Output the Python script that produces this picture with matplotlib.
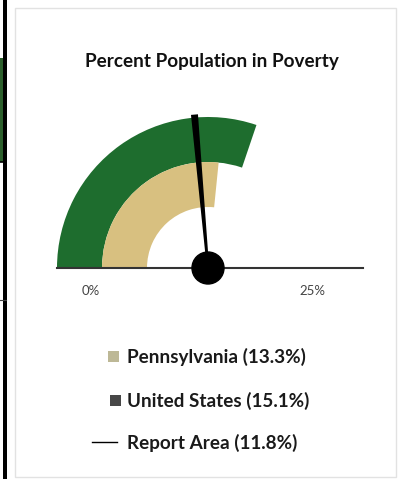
import numpy as np
import matplotlib
matplotlib.use("Agg")
import matplotlib.pyplot as plt
from matplotlib.patches import Wedge, Rectangle, Circle, Polygon

# poverty rates (%)
scale_max = 25.0
state_name = "Pennsylvania"
state_value = 13.3
us_name = "United States"
us_value = 15.1
area_name = "Report Area"
area_value = 11.8
tick_labels = ["0%", "25%"]

green = "#1e6d2e"
tan = "#d8c080"
legend_tan = "#bdb896"
legend_gray = "#474747"

plt.rcParams["font.family"] = ["Lato", "DejaVu Sans"]

W, H = 400, 479
fig = plt.figure(figsize=(W / 100, H / 100), dpi=100)
ax = fig.add_axes([0, 0, 1, 1])
ax.set_xlim(0, W)
ax.set_ylim(H, 0)
ax.axis("off")

# page edge on the left
ax.add_patch(Rectangle((3, 0), 3.5, H, color="black", lw=0))
ax.add_patch(Rectangle((0, 58), 3, 104, color="#2b5e2b", lw=0))
ax.plot([0, 6], [162, 162], color="black", lw=1.2)
ax.plot([0, 6], [300, 300], color="#444444", lw=0.8)

# panel frame
ax.add_patch(Rectangle((15, 8), 381, 469, fill=False, ec="#e2e2e2", lw=1))

ax.text(212, 61, "Percent Population in Poverty", ha="center", va="center",
        fontsize=13.6, fontweight="bold", color="#111111")

# gauge
cx, cy = 208, 268
r_out, r_mid, r_in = 151, 106, 61


def to_angle(v):
    # 0 at the left end, scale_max at the right end (y axis points down)
    return 180.0 + v / scale_max * 180.0


ax.add_patch(Wedge((cx, cy), r_out, 180, to_angle(us_value), width=r_out - r_mid,
                   color=green, lw=0))
ax.add_patch(Wedge((cx, cy), r_mid, 180, to_angle(state_value), width=r_mid - r_in,
                   color=tan, lw=0))

ax.plot([cx - r_out, cx + r_out + 4], [cy, cy], color="#333333", lw=1.5, zorder=3)

# needle: narrow at the hub, wider at the tip
a = np.deg2rad(to_angle(area_value))
d = np.array([np.cos(a), np.sin(a)])
n = np.array([-d[1], d[0]])
c = np.array([cx, cy])
tip = c + (r_out + 3) * d
needle = [c + 1.2 * n, tip + 3.5 * n, tip - 3.5 * n, c - 1.2 * n]
ax.add_patch(Polygon(needle, closed=True, color="black", lw=0, zorder=4))
ax.add_patch(Circle((cx, cy), 16, color="black", zorder=5))

ax.text(91, 291, tick_labels[0], ha="center", va="center", fontsize=9.5, color="#444444")
ax.text(312, 291, tick_labels[1], ha="center", va="center", fontsize=9.5, color="#444444")

# legend
lx = 127
fs = 13.6
ax.add_patch(Rectangle((108, 351), 11, 11, color=legend_tan, lw=0))
ax.text(lx, 357, f"{state_name} ({state_value}%)", ha="left", va="center",
        fontsize=fs, fontweight="bold", color="#1a1a1a")
ax.add_patch(Rectangle((110, 395), 11, 11, color=legend_gray, lw=0))
ax.text(lx, 401, f"{us_name} ({us_value}%)", ha="left", va="center",
        fontsize=fs, fontweight="bold", color="#1a1a1a")
ax.plot([92, 117], [442, 442], color="black", lw=1)
ax.text(lx, 443, f"{area_name} ({area_value}%)", ha="left", va="center",
        fontsize=fs, fontweight="bold", color="#1a1a1a")

fig.savefig("out.png", dpi=100)
